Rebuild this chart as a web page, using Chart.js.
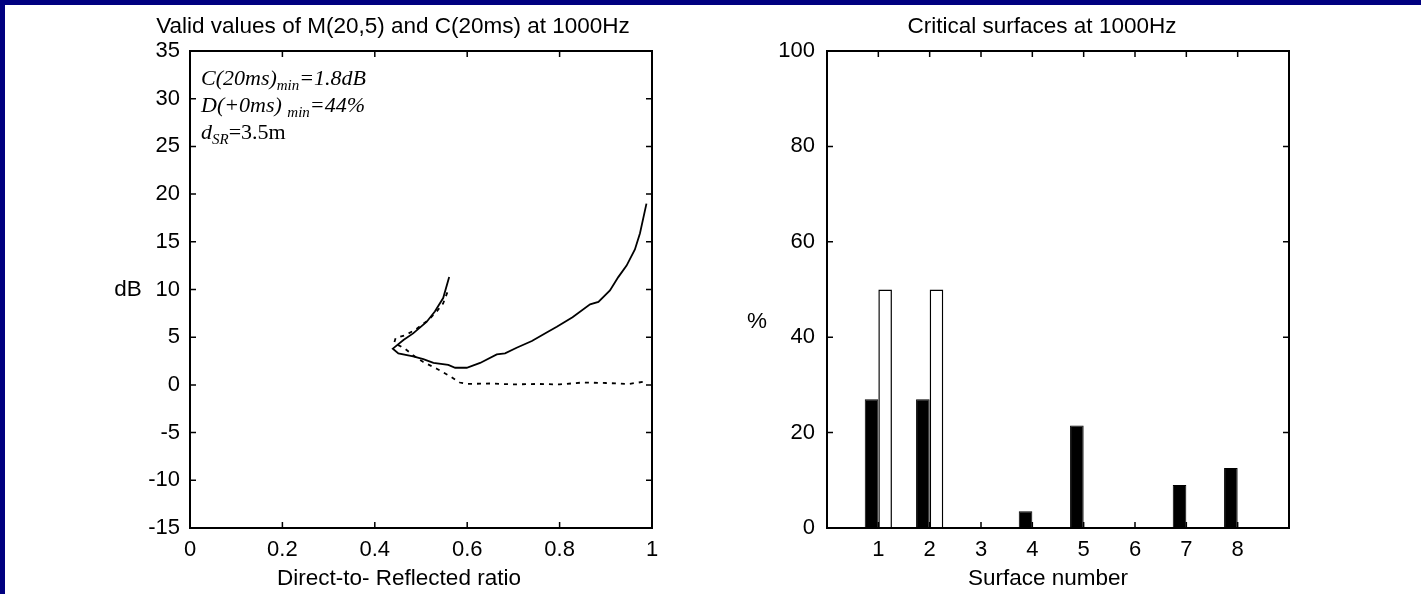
<!DOCTYPE html>
<html><head><meta charset="utf-8">
<style>
html,body{margin:0;padding:0;background:#000080;}
#page{position:relative;width:1421px;height:594px;overflow:hidden;background:#000080;}
#sheet{position:absolute;left:5px;top:5px;width:1416px;height:589px;background:#fff;}
canvas{position:absolute;top:0;}
#left{left:0;}
#right{left:700px;}
</style>
<script src="https://cdn.jsdelivr.net/npm/chart.js"></script>
</head><body>
<div id="page"><div id="sheet">
<canvas id="left" width="700" height="589"></canvas>
<canvas id="right" width="716" height="589"></canvas>
</div></div>
<script>
// C(20ms) curve (solid) - upper branch top down to the vertex, then the lower branch
const c20X=[0.561,0.548,0.530,0.512,0.483,0.462,0.439,0.451,0.483,0.505,0.527,0.559,0.574,0.599,0.628,0.664,0.682,0.707,0.740,0.772,0.794,0.828,0.866,0.884,0.909,0.927,0.945,0.963,0.974,0.988];
const c20Y=[11.3,9.1,7.7,6.6,5.4,4.7,3.8,3.3,3.0,2.7,2.3,2.1,1.8,1.8,2.3,3.2,3.3,3.9,4.6,5.5,6.1,7.1,8.45,8.7,9.9,11.3,12.5,14.2,15.9,19.0];
// M(20,5) curve (dotted)
const m20X=[0.557,0.548,0.534,0.516,0.487,0.465,0.445,0.442,0.465,0.483,0.505,0.534,0.563,0.584,0.600,0.650,0.700,0.750,0.800,0.850,0.900,0.950,0.985];
const m20Y=[9.7,8.55,7.7,6.8,5.75,5.2,4.9,4.4,3.8,3.1,2.4,1.7,0.9,0.25,0.1,0.15,0.05,0.1,0.05,0.25,0.2,0.1,0.35];

const dbTicks=[-15,-10,-5,0,5,10,15,20,25,30,35];
const ratioTicks=[0,0.2,0.4,0.6,0.8,1];
const ratioTickLabels=['0','0.2','0.4','0.6','0.8','1'];

// critical surfaces
const surfaces=[1,2,3,4,5,6,7,8];
const blackPct=[27,27,0,3.5,21.5,0,9,12.6];
const whitePct=[50,50,0,0,0,0,0,0];
const pctTicks=[0,20,40,60,80,100];

const sans='"Liberation Sans", Arial, sans-serif';
const serif='"Liberation Serif", "Times New Roman", serif';
const tickFont={family:sans,size:22};
const titleFont=`22.5px ${sans}`;

// box round the plot, inward ticks on all four sides, free texts
const frame={
  id:'frame',
  afterDraw(chart,args,opts){
    const {ctx,chartArea:a,scales:{x,y}}=chart;
    ctx.save();
    ctx.strokeStyle='#000'; ctx.lineWidth=1.5;
    ctx.beginPath();
    x.ticks.forEach(t=>{
      const px=x.getPixelForValue(t.value);
      ctx.moveTo(px,a.bottom); ctx.lineTo(px,a.bottom-6);
      ctx.moveTo(px,a.top); ctx.lineTo(px,a.top+6);
    });
    y.ticks.forEach(t=>{
      const py=y.getPixelForValue(t.value);
      ctx.moveTo(a.left,py); ctx.lineTo(a.left+6,py);
      ctx.moveTo(a.right,py); ctx.lineTo(a.right-6,py);
    });
    ctx.stroke();
    ctx.lineWidth=2;
    ctx.strokeRect(a.left,a.top,a.right-a.left,a.bottom-a.top);
    ctx.fillStyle='#000';
    (opts.texts||[]).forEach(tx=>{
      const runs=tx.runs||[{t:tx.text,font:tx.font||titleFont,dy:0}];
      let w=0;
      runs.forEach(r=>{ctx.font=r.font; w+=ctx.measureText(r.t).width;});
      let cx=tx.align==='left'?tx.x:tx.x-w/2;
      ctx.textBaseline=tx.baseline||'alphabetic';
      ctx.textAlign='left';
      runs.forEach(r=>{ctx.font=r.font; ctx.fillText(r.t,cx,tx.y+(r.dy||0)); cx+=ctx.measureText(r.t).width;});
    });
    ctx.restore();
  }
};

function fixTicks(list){ return s=>{ s.ticks=list.map(v=>({value:v})); }; }

const it=`italic 22px ${serif}`, sub=`italic 15px ${serif}`;

new Chart(document.getElementById('left'),{
  type:'scatter',
  data:{datasets:[
    {data:c20X.map((v,i)=>({x:v,y:c20Y[i]})),showLine:true,borderColor:'#000',borderWidth:1.8,pointRadius:0,tension:0},
    {data:m20X.map((v,i)=>({x:v,y:m20Y[i]})),showLine:true,borderColor:'#000',borderWidth:1.8,borderDash:[4,5],pointRadius:0,tension:0}
  ]},
  options:{
    responsive:false,animation:false,devicePixelRatio:1,events:[],
    layout:{padding:{top:46,right:53,bottom:0,left:0}},
    plugins:{legend:{display:false},tooltip:{enabled:false},
      frame:{texts:[
        {text:'Valid values of M(20,5) and C(20ms) at 1000Hz',x:388,y:28},
        {text:'Direct-to- Reflected ratio',x:394,y:580},
        {text:'dB',x:123,y:285,baseline:'middle'},
        {align:'left',x:196,y:80,runs:[{t:'C(20ms)',font:it},{t:'min',font:sub,dy:5},{t:'=1.8dB',font:it}]},
        {align:'left',x:196,y:107,runs:[{t:'D(+0ms) ',font:it},{t:'min',font:sub,dy:5},{t:'=44%',font:it}]},
        {align:'left',x:196,y:134,runs:[{t:'d',font:it},{t:'SR',font:sub,dy:5},{t:'=3.5m',font:`22px ${serif}`}]}
      ]}},
    scales:{
      x:{type:'linear',position:'bottom',min:0,max:1,afterBuildTicks:fixTicks(ratioTicks),
        afterFit:s=>{s.height=66;},
        grid:{display:false,drawTicks:false},border:{display:false},
        ticks:{color:'#000',font:tickFont,padding:9,maxRotation:0,autoSkip:false,callback:(v,i)=>ratioTickLabels[i]}},
      y:{type:'linear',min:-15,max:35,afterBuildTicks:fixTicks(dbTicks),
        afterFit:s=>{s.width=185;},
        grid:{display:false,drawTicks:false},border:{display:false},
        ticks:{color:'#000',font:tickFont,padding:10,autoSkip:false,callback:(v,i)=>String(dbTicks[i])}}
    }
  },
  plugins:[frame]
});

new Chart(document.getElementById('right'),{
  type:'bar',
  data:{datasets:[
    {data:surfaces.map((s,i)=>({x:s,y:blackPct[i]})),backgroundColor:'#000',borderColor:'#000',borderWidth:1,categoryPercentage:0.53,barPercentage:1},
    {data:surfaces.map((s,i)=>({x:s,y:whitePct[i]})),backgroundColor:'#fff',borderColor:'#000',borderWidth:1.5,categoryPercentage:0.53,barPercentage:1}
  ]},
  options:{
    responsive:false,animation:false,devicePixelRatio:1,events:[],
    layout:{padding:{top:46,right:132,bottom:0,left:0}},
    plugins:{legend:{display:false},tooltip:{enabled:false},
      frame:{texts:[
        {text:'Critical surfaces at 1000Hz',x:337,y:28},
        {text:'Surface number',x:343,y:580},
        {text:'%',x:52,y:317,baseline:'middle'}
      ]}},
    scales:{
      x:{type:'linear',position:'bottom',min:0,max:9,offset:false,afterBuildTicks:fixTicks(surfaces),
        afterFit:s=>{s.height=66;},
        grid:{display:false,drawTicks:false,offset:false},border:{display:false},
        ticks:{color:'#000',font:tickFont,padding:9,maxRotation:0,autoSkip:false,callback:(v,i)=>String(surfaces[i])}},
      y:{type:'linear',min:0,max:100,afterBuildTicks:fixTicks(pctTicks),
        afterFit:s=>{s.width=122;},
        grid:{display:false,drawTicks:false},border:{display:false},
        ticks:{color:'#000',font:tickFont,padding:12,autoSkip:false,callback:(v,i)=>String(pctTicks[i])}}
    }
  },
  plugins:[frame]
});
</script>
</body></html>
